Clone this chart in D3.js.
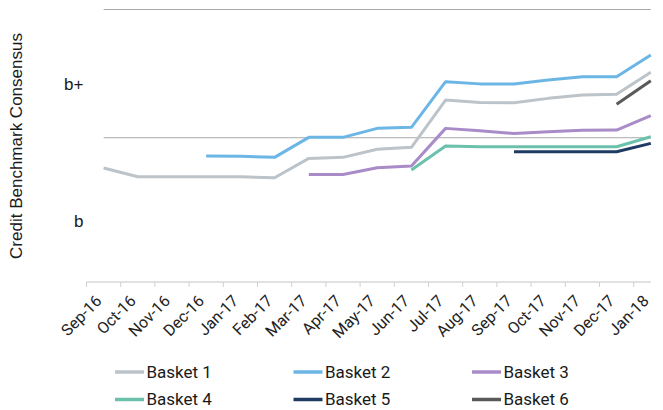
<!DOCTYPE html>
<html>
<head>
<meta charset="utf-8">
<script src="https://cdn.jsdelivr.net/npm/d3@7"></script>
<style>
  body { margin: 0; background: #fff; }
  svg { display: block; }
  .tick-label { font-family: Roboto, "Noto Sans", sans-serif; font-size: 16px; fill: #222; }
  .legend text { font-family: Roboto, "Noto Sans", sans-serif; font-size: 17px; fill: #1a1a1a; }
  .ylab { font-family: "Liberation Sans", Arial, sans-serif; font-size: 17px; fill: #1a1a1a; }
</style>
</head>
<body>
<script>
(function() {

  /* months on the x axis */
  var months = ["Sep-16", "Oct-16", "Nov-16", "Dec-16", "Jan-17", "Feb-17", "Mar-17", "Apr-17",
                "May-17", "Jun-17", "Jul-17", "Aug-17", "Sep-17", "Oct-17", "Nov-17", "Dec-17", "Jan-18"];

  // consensus score per basket (null = no data that month)
  var basket1 = [1.764, 1.696, 1.696, 1.696, 1.696, 1.688, 1.839, 1.847, 1.910, 1.925, 2.294, 2.275, 2.273, 2.307, 2.333, 2.339, 2.510];
  var basket2 = [null, null, null, 1.857, 1.855, 1.847, 2.003, 2.003, 2.073, 2.081, 2.437, 2.420, 2.419, 2.450, 2.476, 2.476, 2.645];
  var basket3 = [null, null, null, null, null, null, 1.714, 1.714, 1.766, 1.779, 2.073, 2.055, 2.033, 2.047, 2.058, 2.060, 2.172];
  var basket4 = [null, null, null, null, null, null, null, null, null, 1.748, 1.935, 1.930, 1.930, 1.930, 1.930, 1.930, 2.008];
  var basket5 = [null, null, null, null, null, null, null, null, null, null, null, null, 1.891, 1.891, 1.891, 1.891, 1.956];
  var basket6 = [null, null, null, null, null, null, null, null, null, null, null, null, null, null, null, 2.261, 2.445];

  var seriesNames = ["Basket 1", "Basket 2", "Basket 3", "Basket 4", "Basket 5", "Basket 6"];
  var seriesColors = ["#bcc3c9", "#6cb6e6", "#a88bc7", "#6cc1ad", "#1f3a63", "#595959"];

  // y gridlines and the rating labels
  var gridValues = [2, 3];
  var ratingLabels = ["b", "b+"];
  var ratingValues = [1.35, 2.42];

  var width = 663, height = 410;

  var svg = d3.select("body").append("svg")
      .attr("width", width)
      .attr("height", height);

  /* scales */
  var x = d3.scaleBand()
      .domain(months)
      .range([86.5, 86.5 + 17 * 34.2]);

  var y = d3.scaleLinear()
      .domain([0.875, 3])
      .range([282, 9.5]);

  function cx(m) { return x(m) + x.bandwidth() / 2; }

  var xFirst = cx(months[0]),
      xLast = cx(months[months.length - 1]);

  // horizontal gridlines
  svg.selectAll(".grid")
      .data(gridValues)
    .enter().append("line")
      .attr("class", "grid")
      .attr("x1", xFirst)
      .attr("x2", xLast)
      .attr("y1", function(d) { return y(d); })
      .attr("y2", function(d) { return y(d); })
      .attr("stroke", "#a9a9a9")
      .attr("stroke-width", 1);

  // x axis line + tick marks at band edges
  var axisY = y(0.875);
  svg.append("line")
      .attr("x1", x(months[0]))
      .attr("x2", xLast)
      .attr("y1", axisY)
      .attr("y2", axisY)
      .attr("stroke", "#c4c4c4")
      .attr("stroke-width", 1);

  svg.selectAll(".xtick")
      .data(months)
    .enter().append("line")
      .attr("class", "xtick")
      .attr("x1", function(d) { return x(d); })
      .attr("x2", function(d) { return x(d); })
      .attr("y1", axisY)
      .attr("y2", axisY + 5)
      .attr("stroke", "#d0d0d0")
      .attr("stroke-width", 1);

  // rotated month labels
  svg.selectAll(".tick-label")
      .data(months)
    .enter().append("text")
      .attr("class", "tick-label")
      .attr("text-anchor", "end")
      .attr("transform", function(d) { return "translate(" + (cx(d) - 1) + "," + (axisY + 20) + ")rotate(-45)"; })
      .text(function(d) { return d; });

  // y rating labels
  svg.selectAll(".rating")
      .data(ratingLabels)
    .enter().append("text")
      .attr("class", "ylab")
      .attr("x", 83.5)
      .attr("y", function(d, i) { return y(ratingValues[i]); })
      .attr("dy", ".35em")
      .attr("text-anchor", "end")
      .text(function(d) { return d; });

  // y axis title
  svg.append("text")
      .attr("class", "ylab")
      .attr("text-anchor", "middle")
      .attr("transform", "translate(22,146)rotate(-90)")
      .text("Credit Benchmark Consensus");

  /* lines */
  var allSeries = [basket1, basket2, basket3, basket4, basket5, basket6];

  var line = d3.line()
      .defined(function(d) { return d != null; })
      .x(function(d, i) { return cx(months[i]); })
      .y(function(d) { return y(d); });

  svg.selectAll(".series")
      .data(allSeries)
    .enter().append("path")
      .attr("class", "series")
      .attr("fill", "none")
      .attr("stroke", function(d, i) { return seriesColors[i]; })
      .attr("stroke-width", 3)
      .attr("stroke-linejoin", "round")
      .attr("d", line);

  /* legend, 3 columns x 2 rows */
  var legend = svg.append("g").attr("class", "legend");

  var item = legend.selectAll("g")
      .data(seriesNames)
    .enter().append("g")
      .attr("transform", function(d, i) {
        return "translate(" + (115 + (i % 3) * 178.5) + "," + (372 + Math.floor(i / 3) * 27.5) + ")";
      });

  item.append("line")
      .attr("x1", 0)
      .attr("x2", 29)
      .attr("stroke", function(d, i) { return seriesColors[i]; })
      .attr("stroke-width", 3.5);

  item.append("text")
      .attr("x", 31.5)
      .attr("dy", ".35em")
      .text(function(d) { return d; });

})();
</script>
</body>
</html>
